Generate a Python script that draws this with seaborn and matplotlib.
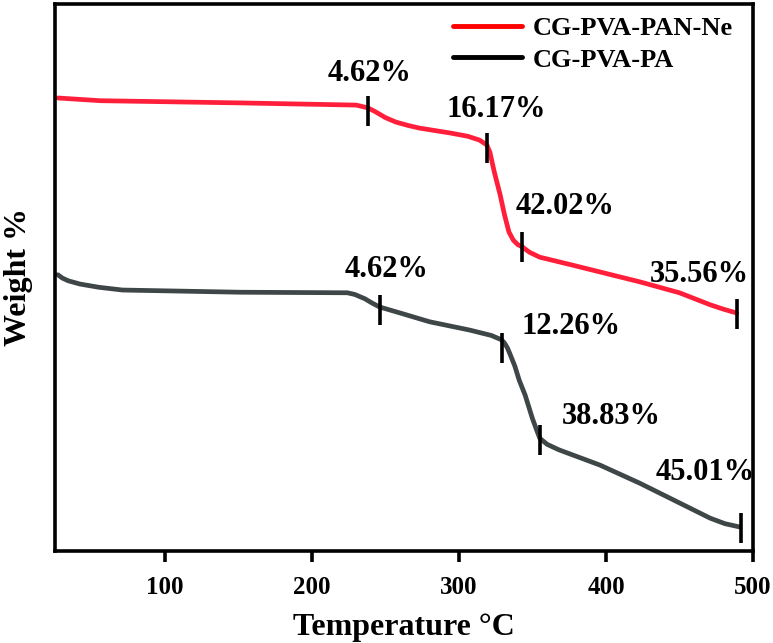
import numpy as np
import pandas as pd
import matplotlib
import matplotlib.pyplot as plt
import seaborn as sns
from matplotlib.lines import Line2D

# === data (y axis has no scale so arbitrary 0-100) ===
red_temp = [27, 56, 151, 230, 238, 243, 250, 257, 265, 273, 294, 306, 314, 319, 321,
            324, 328, 331, 334, 337, 340, 343, 348, 355, 375, 396, 423, 450, 471, 480, 489]
red_weight = [82.8, 82.3, 81.9, 81.5, 81.0, 80.3, 79.2, 78.4, 77.8, 77.3, 76.4, 75.8,
              75.1, 74.2, 72.9, 69.3, 65.1, 61.4, 58.3, 56.8, 56.0, 55.6, 54.6, 53.7,
              52.4, 51.0, 49.2, 47.2, 45.0, 44.2, 43.5]

gray_temp = [27, 30, 34, 42, 55, 71, 151, 224, 229, 236, 241, 246, 260, 280, 307, 322,
             329, 331, 333, 335, 338, 341, 345, 350, 353, 355, 360, 368, 396, 423, 450,
             471, 481, 491]
gray_weight = [50.5, 49.9, 49.4, 48.8, 48.2, 47.7, 47.3, 47.2, 46.9, 46.1, 45.3, 44.6,
               43.5, 41.9, 40.4, 39.4, 38.6, 38.0, 37.1, 35.8, 33.8, 31.2, 28.5, 24.2,
               22.0, 20.6, 19.5, 18.5, 15.7, 12.4, 8.8, 6.0, 5.0, 4.4]

red_mark_temp = [238, 319, 343, 489]
red_mark_weight = [80.4, 73.7, 55.6, 43.3]
red_mark_labels = ["4.62%", "16.17%", "42.02%", "35.56%"]

gray_mark_temp = [246, 329, 355, 492]
gray_mark_weight = [44.1, 37.1, 20.3, 4.2]
gray_mark_labels = ["4.62%", "12.26%", "38.83%", "45.01%"]

series_names = ["CG-PVA-PAN-Ne", "CG-PVA-PA"]

# === style ===
sns.set_style("white")
plt.rcParams["font.family"] = ["Liberation Serif", "DejaVu Serif"]
plt.rcParams["font.weight"] = "bold"
plt.rcParams["text.color"] = "black"
plt.rcParams["axes.labelcolor"] = "black"
plt.rcParams["xtick.color"] = "black"

RED = "#ff1f3a"
GRAY = "#3e4647"

df = pd.concat([
    pd.DataFrame({"T": red_temp, "W": red_weight, "s": series_names[0]}),
    pd.DataFrame({"T": gray_temp, "W": gray_weight, "s": series_names[1]}),
])

fig = plt.figure(figsize=(7.73, 6.43), dpi=100)
ax = fig.add_axes([0.071, 0.143, 0.903, 0.851])

sns.lineplot(data=df, x="T", y="W", hue="s", palette=[RED, GRAY],
             linewidth=3.4, legend=False, ax=ax, sort=False)

# step markers
ax.plot(red_mark_temp, red_mark_weight, ls="none", marker="|", ms=22, mew=2.6, color="black")
ax.plot(gray_mark_temp, gray_mark_weight, ls="none", marker="|", ms=22, mew=2.6, color="black")

# label offsets in pixels
red_offsets = [(2, 38), (9, 38), (43, 40), (-37, 40)]
gray_offsets = [(7, 40), (69, 22), (71, 23), (-36, 56)]
for xs, ys, labs, offs in [(red_mark_temp, red_mark_weight, red_mark_labels, red_offsets),
                           (gray_mark_temp, gray_mark_weight, gray_mark_labels, gray_offsets)]:
    for x, y, lab, off in zip(xs, ys, labs, offs):
        ax.annotate(lab, xy=(x, y), xytext=off, textcoords="offset pixels",
                    ha="center", va="center", fontsize=22, fontweight="bold",
                    color="black")

# legend
handles = [Line2D([], [], color="red", lw=3.5), Line2D([], [], color="black", lw=3.5)]
leg = ax.legend(handles, series_names, loc="upper right", frameon=False,
                handlelength=2.6, handletextpad=0.4, labelspacing=0.3,
                bbox_to_anchor=(1.005, 1.02), prop={"weight": "bold", "size": 19})

ax.set_xlim(25, 500)
ax.set_ylim(0, 100)
ax.set_xticks([100, 200, 300, 400, 500])
ax.set_yticks([])
ax.tick_params(axis="x", direction="out", length=8, width=2.6, labelsize=18, pad=10,
               bottom=True)
for sp in ax.spines.values():
    sp.set_linewidth(2.6)
    sp.set_color("black")

ax.set_xlabel("Temperature °C", fontsize=23, fontweight="bold", labelpad=10)
ax.set_ylabel("Weight %", fontsize=23, fontweight="bold", labelpad=16)

fig.savefig("out.png", dpi=100)
